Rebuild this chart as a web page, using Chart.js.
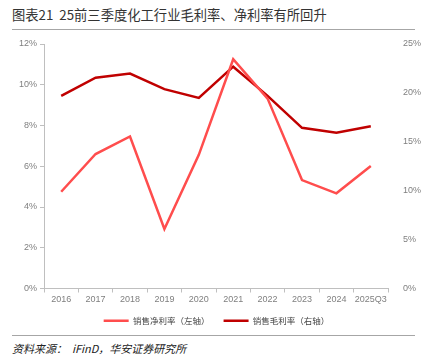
<!DOCTYPE html>
<html>
<head>
<meta charset="utf-8">
<script src="https://cdn.jsdelivr.net/npm/chart.js@4.4.0/dist/chart.umd.min.js"></script>
<style>
  body { margin: 0; background: #fff; width: 433px; height: 359px; overflow: hidden; position: relative; font-family: "Noto Sans CJK SC", sans-serif; }
  #title { position: absolute; left: 12px; top: 5px; font-size: 13.3px; color: #333; white-space: nowrap; }
  .rule { position: absolute; left: 12px; width: 403px; height: 1px; background: #a6a6a6; }
  #source { position: absolute; left: 12px; top: 340px; font-size: 11px; font-style: italic; color: #222; white-space: nowrap; }
  #wrap { position: absolute; left: 0; top: 30px; width: 433px; height: 305px; }
</style>
</head>
<body>
<div id="title">图表21&nbsp; 25前三季度化工行业毛利率、净利率有所回升</div>
<div class="rule" style="top:29px"></div>
<div id="wrap"><canvas id="marginChart"></canvas></div>
<div class="rule" style="top:335px"></div>
<div id="source">资料来源：&nbsp; iFinD，华安证券研究所</div>
<script>
// Data
const years = ['2016', '2017', '2018', '2019', '2020', '2021', '2022', '2023', '2024', '2025Q3'];
const netMargin = [4.75, 6.6, 7.46, 2.92, 6.56, 11.25, 9.32, 5.32, 4.67, 6.01];     // left axis, %
const grossMargin = [19.7, 21.56, 21.97, 20.38, 19.49, 22.68, 19.7, 16.43, 15.92, 16.6]; // right axis, %

const tickFont = { family: 'Arial, "Liberation Sans", sans-serif', size: 9 };
const grey = '#7f7f7f';

const ctx = document.getElementById('marginChart').getContext('2d');
const marginChart = new Chart(ctx, {
  type: 'line',
  data: {
    labels: years,
    datasets: [{
      label: '销售净利率（左轴）',
      data: netMargin,
      borderColor: '#ff4d4d',
      backgroundColor: '#ff4d4d',
      borderWidth: 2.5,
      pointRadius: 0,
      tension: 0,
      yAxisID: 'y'
    },
    {
      label: '销售毛利率（右轴）',
      data: grossMargin,
      borderColor: '#c00000',
      backgroundColor: '#c00000',
      borderWidth: 2.5,
      pointRadius: 0,
      tension: 0,
      yAxisID: 'y1'
    }]
  },
  options: {
    responsive: true,
    maintainAspectRatio: false,
    animation: false,
    layout: { padding: { top: 14, left: 0, right: 0, bottom: 0 } },
    plugins: {
      tooltip: { enabled: false },
      legend: {
        position: 'bottom',
        labels: {
          usePointStyle: true,
          pointStyle: 'line',
          pointStyleWidth: 25,
          boxWidth: 25,
          padding: 8,
          color: '#444',
          font: { family: '"Noto Sans CJK SC", sans-serif', size: 8.5 },
          // widen the gap between the two legend items
          generateLabels: chart => {
            const items = Chart.defaults.plugins.legend.labels.generateLabels(chart);
            items[0].text += '\u3000 ';
            return items;
          }
        }
      }
    },
    scales: {
      x: {
        offset: true,
        grid: { offset: true, drawOnChartArea: false, tickLength: 4, color: '#bfbfbf' },
        border: { color: '#bfbfbf' },
        ticks: { color: grey, font: tickFont, maxRotation: 0, autoSkip: false, padding: 2 },
        afterFit: s => { s.height = 20; }
      },
      y: {
        position: 'left',
        min: 0,
        max: 12,
        grid: { drawOnChartArea: false, tickLength: 4, color: '#bfbfbf' },
        border: { color: '#bfbfbf' },
        ticks: { stepSize: 2, color: grey, font: tickFont, padding: 3, callback: v => v + '%' },
        afterFit: s => { s.width = 44; }
      },
      y1: {
        position: 'right',
        min: 0,
        max: 25,
        grid: { display: false, drawOnChartArea: false },
        border: { display: false },
        ticks: { stepSize: 5, color: grey, font: tickFont, padding: 7, callback: v => v + '%' },
        afterFit: s => { s.width = 45; }
      }
    }
  }
});
</script>
</body>
</html>
